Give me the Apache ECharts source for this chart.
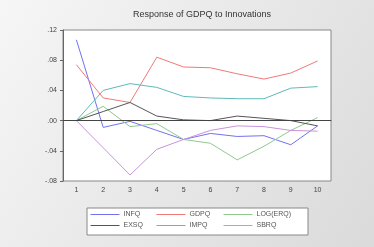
<!DOCTYPE html>
<html>
<head>
<meta charset="utf-8">
<script src="https://cdn.jsdelivr.net/npm/echarts@6/dist/echarts.min.js"></script>
<style>
html, body { margin: 0; padding: 0; }
#chart { width: 374px; height: 247px; }
</style>
</head>
<body>
<div id="chart"></div>
<script>
var periods = ['1', '2', '3', '4', '5', '6', '7', '8', '9', '10'];
var infq   = [0.107, -0.009, -0.001, -0.013, -0.025, -0.017, -0.021, -0.020, -0.032, -0.007];
var gdpq   = [0.074, 0.030, 0.024, 0.084, 0.071, 0.070, 0.062, 0.055, 0.063, 0.079];
var logerq = [0.000, 0.019, -0.008, -0.004, -0.025, -0.030, -0.052, -0.034, -0.013, 0.004];
var exsq   = [0.000, 0.012, 0.024, 0.006, 0.001, 0.000, 0.006, 0.003, 0.000, -0.007];
var impq   = [0.000, 0.040, 0.049, 0.044, 0.032, 0.030, 0.029, 0.029, 0.043, 0.045];
var sbrq   = [0.000, -0.036, -0.072, -0.038, -0.025, -0.013, -0.007, -0.008, -0.013, -0.014];
var yTicks = [-0.08, 0.12, 0.04];
// legend columns: [names, left]
var legendCols = [[['INFQ', 'EXSQ'], 90], [['GDPQ', 'IMPQ'], 156], [['LOG(ERQ)', 'SBRQ'], 223]];

function mk(name, data, color) {
    return {
        name: name,
        type: 'line',
        data: data,
        symbol: 'none',
        lineStyle: { width: 1, color: color },
        itemStyle: { color: color }
    };
}

var series = [
    mk('INFQ', infq, '#7272f0'),
    mk('GDPQ', gdpq, '#f07a7a'),
    mk('LOG(ERQ)', logerq, '#90c890'),
    mk('EXSQ', exsq, '#555555'),
    mk('IMPQ', impq, '#60baba'),
    mk('SBRQ', sbrq, '#c894dc')
];
// zero line
series[3].markLine = {
    silent: true,
    symbol: 'none',
    label: { show: false },
    lineStyle: { color: '#444', width: 1, type: 'solid' },
    data: [{ yAxis: 0 }]
};

var legends = [];
legendCols.forEach(function (c) {
    legends.push({
        orient: 'vertical',
        left: c[1], top: 211,
        padding: 0,
        itemWidth: 29, itemHeight: 8, itemGap: 4,
        itemStyle: { opacity: 0 },
        lineStyle: { width: 1 },
        textStyle: { fontSize: 7, color: '#555', padding: [0, 0, 0, -1] },
        data: c[0]
    });
});

var chart = echarts.init(document.getElementById('chart'));
chart.setOption({
    animation: false,
    backgroundColor: {
        type: 'linear', x: 0, y: 0, x2: 1, y2: 1,
        colorStops: [{ offset: 0, color: '#f6f6f6' }, { offset: 1, color: '#dadada' }]
    },
    title: {
        text: 'Response of GDPQ to Innovations',
        left: 197, top: 5, textAlign: 'center',
        textStyle: { fontSize: 9, fontWeight: 'normal', color: '#333', fontFamily: 'Liberation Sans' }
    },
    grid: {
        left: 63, right: 43, top: 30, bottom: 66,
        show: true, backgroundColor: '#fff', borderColor: '#888', borderWidth: 1
    },
    xAxis: {
        type: 'category',
        data: periods,
        boundaryGap: true,
        axisLine: { lineStyle: { color: '#666' } },
        axisTick: { inside: true, length: 3, lineStyle: { color: '#666' } },
        axisLabel: { fontSize: 7, color: '#444', margin: 6 }
    },
    yAxis: {
        type: 'value',
        min: yTicks[0], max: yTicks[1], interval: yTicks[2],
        axisLine: { show: true, lineStyle: { color: '#666' } },
        axisTick: { show: true, length: 3, lineStyle: { color: '#666' } },
        splitLine: { show: false },
        axisLabel: {
            fontSize: 7, color: '#444', margin: 6,
            formatter: function (v) {
                var s = Math.abs(v).toFixed(2).replace(/^0/, '');
                return v < -1e-9 ? '-' + s : s;
            }
        }
    },
    legend: legends,
    graphic: [{
        type: 'rect', z: -1,
        shape: { x: 87, y: 208, width: 221, height: 27 },
        style: { fill: '#fff', stroke: '#888', lineWidth: 1 }
    }],
    series: series
});
</script>
</body>
</html>
